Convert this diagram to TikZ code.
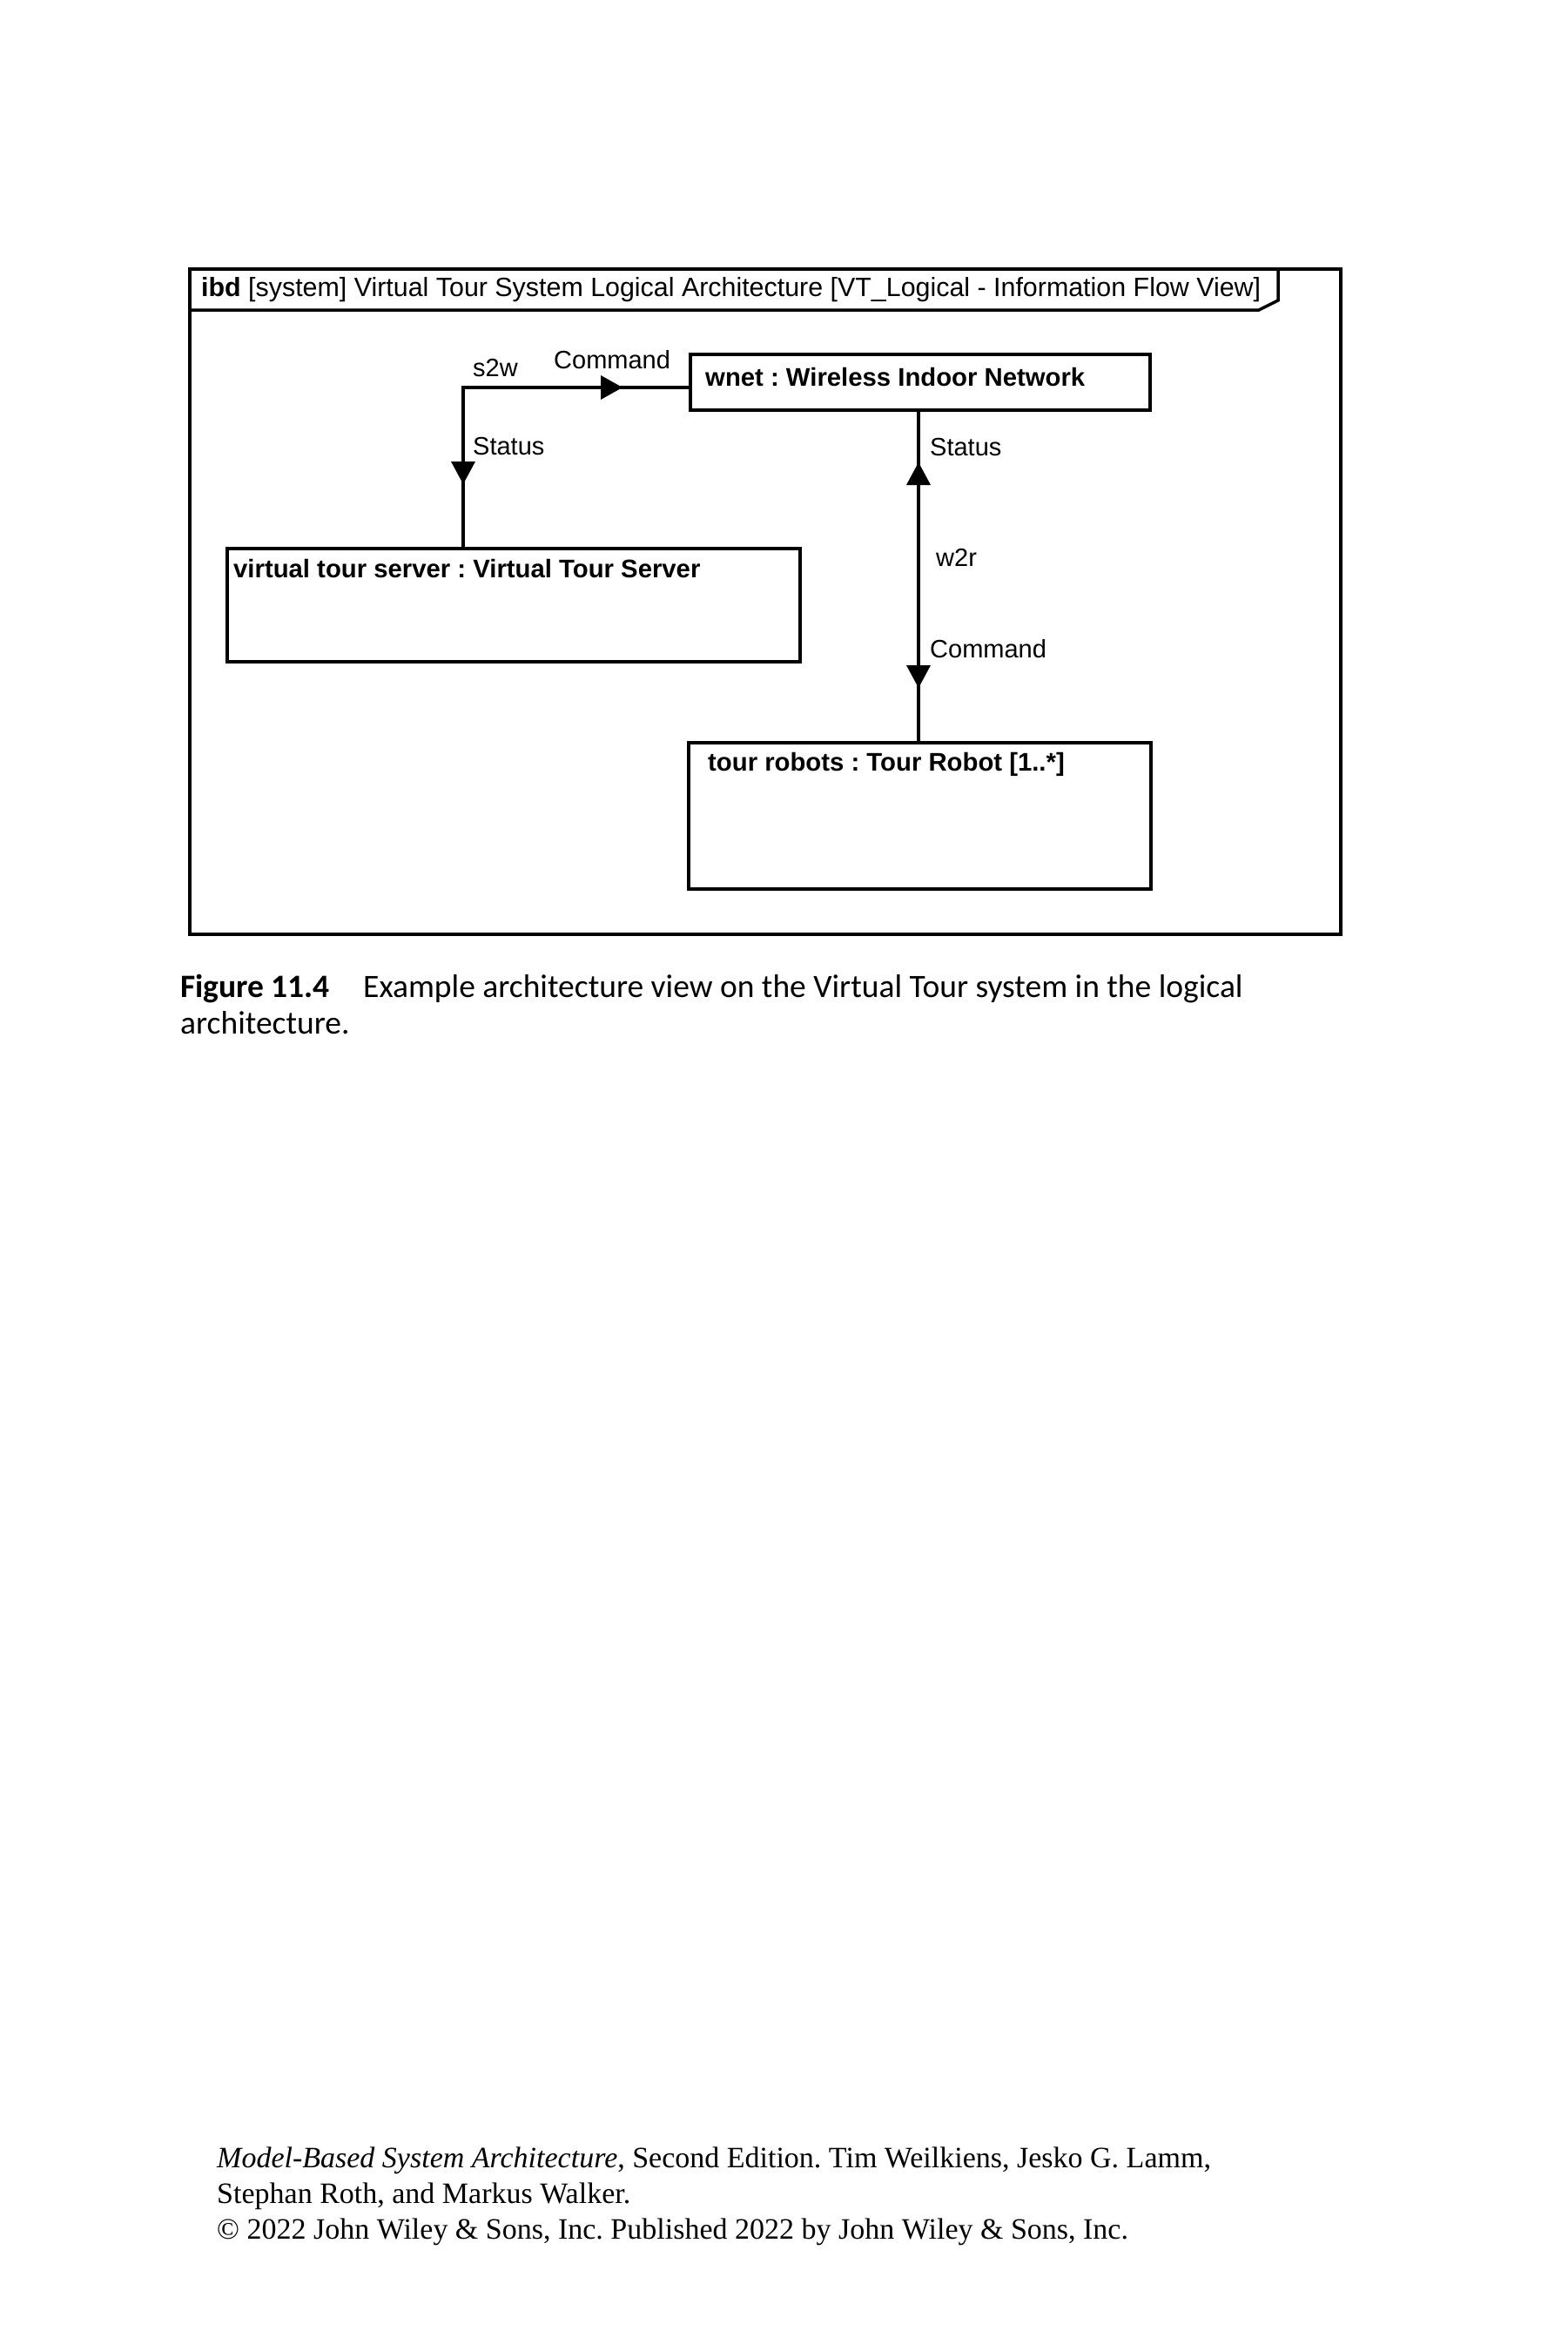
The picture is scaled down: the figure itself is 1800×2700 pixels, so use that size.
\documentclass[tikz,border=0pt]{standalone}
\usepackage{fontspec}
\newfontfamily\diagfont{Liberation Sans}
\newfontfamily\capfont{Carlito}
\newfontfamily\footfont{Liberation Serif}
\frenchspacing
\begin{document}
\frenchspacing
\begin{tikzpicture}[x=1pt,y=-1pt,
  box/.style={draw,line width=3.5pt,anchor=north west,inner sep=0pt,outer sep=0pt},
  lbl/.style={anchor=base west,inner sep=0pt,font=\diagfont\fontsize{29}{34}\selectfont},
  blbl/.style={lbl,font=\diagfont\bfseries\fontsize{29.3}{34}\selectfont},
  ttl/.style={lbl,font=\diagfont\fontsize{30.4}{36}\selectfont},
  conn/.style={line width=3.5pt},
  flow/.style={fill=black},
  captext/.style={anchor=base west,inner sep=0pt,font=\capfont\fontsize{37.5}{42}\selectfont},
  foot/.style={anchor=base west,inner sep=0pt,font=\footfont\fontsize{34}{40}\selectfont}]
\useasboundingbox (0,0) rectangle (1800,2700);
\fill[white] (0,0) rectangle (1800,2700);
% frame
\node[box,minimum width=1322pt,minimum height=764pt] (frame) at (218,309) {};
\draw[line width=3.5pt] (218,356) -- (1446,356) -- (1468,345) -- (1468,309);
\node[ttl] (title) at (231,340) {\textbf{ibd} [system] Virtual Tour System Logical Architecture [VT\_Logical - Information Flow View]};
% parts
\node[box,minimum width=528pt,minimum height=64pt] (wnet) at (793,407) {};
\node[blbl] (wnetl) at (810,443) {wnet : Wireless Indoor Network};
\node[box,minimum width=658pt,minimum height=130pt] (vts) at (261,630) {};
\node[blbl] (vtsl) at (268,663) {virtual tour server : Virtual Tour Server};
\node[box,minimum width=531pt,minimum height=168pt] (robots) at (791,853) {};
\node[blbl] (robotsl) at (813,885) {tour robots : Tour Robot [1..*]};
% connectors
\coordinate (c1) at (532,445);
\coordinate (c2) at (1055,0);
\draw[conn] (vts.north -| c1) -- (c1) -- (c1 -| wnet.west);
\draw[conn] (wnet.south -| c2) -- (robots.north -| c2);
% item flow markers
\fill[flow] (715,445) -- (690,431) -- (690,459) -- cycle;
\fill[flow] (532,556) -- (518,530) -- (546,530) -- cycle;
\fill[flow] (1055,531) -- (1041,557) -- (1069,557) -- cycle;
\fill[flow] (1055,790) -- (1041,764) -- (1069,764) -- cycle;
% labels
\node[lbl] (s2w) at (543,432) {s2w};
\node[lbl] (cmd1) at (636,423) {Command};
\node[lbl] (st1) at (543,522) {Status};
\node[lbl] (st2) at (1068,523) {Status};
\node[lbl] (w2r) at (1075,650) {w2r};
\node[lbl] (cmd2) at (1068,755) {Command};
% caption
\node[captext] (fig) at (207,1145) {\bfseries Figure 11.4};
\node[captext] (capt1) at (417,1145) {Example architecture view on the Virtual Tour system in the logical};
\node[captext] (capt2) at (207,1187) {architecture.};
% footer
\node[foot] (f1) at (249,2489) {\textit{Model-Based System Architecture}, Second Edition. Tim Weilkiens, Jesko G. Lamm,};
\node[foot] (f2) at (249,2530) {Stephan Roth, and Markus Walker.};
\node[foot] (f3) at (249,2571) {© 2022 John Wiley \& Sons, Inc. Published 2022 by John Wiley \& Sons, Inc.};
\end{tikzpicture}
\end{document}
